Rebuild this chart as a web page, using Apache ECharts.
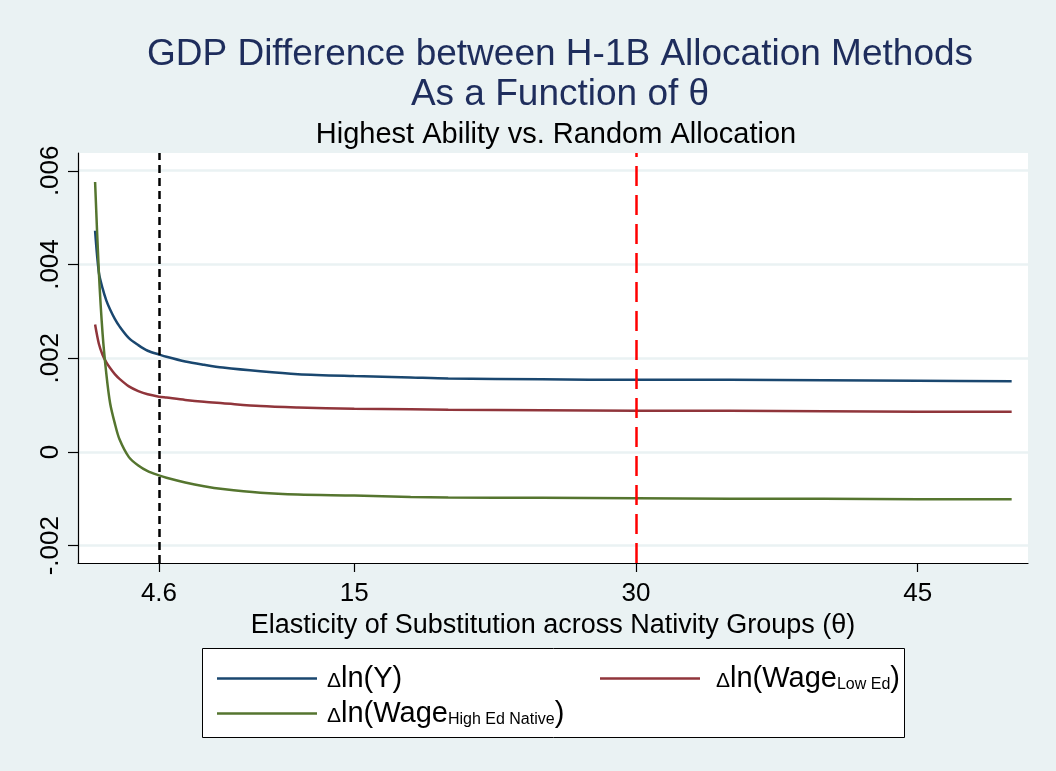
<!DOCTYPE html>
<html><head><meta charset="utf-8">
<script src="https://cdn.jsdelivr.net/npm/echarts@6/dist/echarts.min.js"></script>
<style>html,body{margin:0;padding:0;background:#eaf2f3;}#c{width:1056px;height:771px;}</style>
</head><body><div id="c"></div>
<script>
const theta = [1.2,1.4,1.6,1.8,2,2.25,2.5,3,3.5,4,4.6,5,6,7,8,10,12,15,18,20,25,30,35,40,45,50];
const dlnY = [.00472,.00383,.00349,.00323,.00304,.00284,.00268,.00243,.00228,.00216,.00208,.00203,.00193,.00186,.00180,.00172,.00166,.00162,.00159,.00157,.00155,.00154,.00154,.00153,.00152,.00151];
const dlnWageLowEd = [.00272,.00231,.00207,.00191,.00179,.00166,.00156,.00140,.00130,.00123,.00118,.00116,.00111,.00107,.00104,.00098,.00095,.00092,.00091,.00090,.00089,.00088,.00088,.00087,.00086,.00086];
const dlnWageHighEdNative = [.00576,.00384,.00252,.00166,.00104,.00061,.00027,-.00011,-.00029,-.00041,-.00050,-.00055,-.00065,-.00073,-.00079,-.00087,-.00091,-.00093,-.00096,-.00097,-.00098,-.00099,-.00100,-.00100,-.00101,-.00101];
const xTicks = [4.6, 15, 30, 45];
const yTicks = [-0.002, 0, 0.002, 0.004, 0.006];
const xLineBlack = 4.6;
const xLineRed = 30;
const titleText = 'GDP Difference between H-1B Allocation Methods\nAs a Function of θ';
const subtitleText = 'Highest Ability vs. Random Allocation';
const xTitle = 'Elasticity of Substitution across Nativity Groups (θ)';

const FONT = 'Liberation Sans, Arial, sans-serif';
const pairs = a => theta.map((t, i) => [t, a[i]]);
const chart = echarts.init(document.getElementById('c'), null, {renderer: 'canvas'});
const rich = {
  d: {fontSize: 21, fontFamily: FONT, color: '#000', padding: [5, 0, 0, 0]},
  t: {fontSize: 29, fontFamily: FONT, color: '#000'},
  sub: {fontSize: 16, fontFamily: FONT, color: '#000', padding: [12, 0, 0, 0]}
};
const names = {
  Y: '{d|Δ}{t|ln(Y)}',
  LowEd: '{d|Δ}{t|ln(Wage}{sub|Low Ed}{t|)}',
  HighEd: '{d|Δ}{t|ln(Wage}{sub|High Ed Native}{t|)}'
};
const lineSeries = (name, data, color) => ({
  name, type: 'line', data: pairs(data), symbol: 'none', showSymbol: false,
  smooth: 0.3, z: 3,
  lineStyle: {color, width: 2.5}, itemStyle: {color}
});
const legendIcon = 'path://M0,0H100V2.5H0Z';
chart.setOption({
  backgroundColor: '#eaf2f3',
  animation: false,
  title: [
    {text: titleText, left: 555, textAlign: 'center', top: 30,
     textStyle: {fontFamily: FONT, fontSize: 37, fontWeight: 'normal', color: '#1e2d5c', lineHeight: 40}},
    {text: subtitleText, left: 551, textAlign: 'center', top: 115,
     textStyle: {fontFamily: FONT, fontSize: 29, fontWeight: 'normal', color: '#000'}}
  ],
  grid: [
    {left: 78, right: 28, top: 153, bottom: 208, show: true, backgroundColor: '#ffffff', borderWidth: 0, z: 0},
    {left: 78, right: 28, top: 170.7, bottom: 225.3, show: false}
  ],
  xAxis: [{
    type: 'value', min: 0.29, max: 50.87,
    name: xTitle, nameLocation: 'middle', nameGap: 39,
    nameTextStyle: {fontFamily: FONT, fontSize: 27, color: '#000'},
    axisLine: {show: true, onZero: false, lineStyle: {color: '#000', width: 1.2}},
    axisTick: {show: true, length: 9, customValues: xTicks, lineStyle: {color: '#000', width: 1.2}},
    axisLabel: {customValues: xTicks, margin: 18, fontFamily: FONT, fontSize: 26, color: '#000',
      formatter: v => String(v)},
    splitLine: {show: false}, z: 2
  }, {
    gridIndex: 1, type: 'value', min: 0, max: 1, show: false
  }],
  yAxis: [{
    type: 'value', min: -0.00237, max: 0.00638,
    axisLine: {show: true, onZero: false, lineStyle: {color: '#000', width: 1.2}},
    axisTick: {show: true, length: 10, customValues: yTicks, lineStyle: {color: '#000', width: 1.2}},
    axisLabel: {customValues: yTicks, rotate: 90, margin: 14, fontFamily: FONT, fontSize: 26, color: '#000',
      formatter: v => v === 0 ? '0' : String(+v.toFixed(4)).replace('0.', '.')},
    splitLine: {show: false}, z: 2
  }, {
    gridIndex: 1, type: 'value', min: yTicks[0], max: yTicks[yTicks.length - 1], interval: 0.002,
    axisLine: {show: false}, axisTick: {show: false}, axisLabel: {show: false},
    splitLine: {show: true, lineStyle: {color: '#eaf2f3', width: 2.5}}, z: 1
  }],
  legend: [
    {data: ['Y', 'HighEd'], orient: 'vertical', left: 212, top: 659, itemWidth: 100, itemHeight: 2.5, itemGap: 6,
     icon: legendIcon, formatter: n => names[n], textStyle: {rich, padding: [0, 0, 0, 5]},
     selectedMode: false},
    {data: ['LowEd'], orient: 'vertical', left: 595, top: 659, itemWidth: 100, itemHeight: 2.5,
     icon: legendIcon, formatter: n => names[n], textStyle: {rich, padding: [0, 0, 0, 11]},
     selectedMode: false}
  ],
  graphic: [
    {type: 'rect', left: 202, top: 648, shape: {width: 702, height: 89}, z: -1,
     style: {fill: '#fff', stroke: '#000', lineWidth: 1}}
  ],
  series: [
    lineSeries('Y', dlnY, '#1a476f'),
    lineSeries('LowEd', dlnWageLowEd, '#90353b'),
    lineSeries('HighEd', dlnWageHighEdNative, '#55752f'),
    {type: 'line', name: 'vlines', data: [], z: 4, silent: true,
     markLine: {silent: true, symbol: ['none', 'none'], label: {show: false},
       data: [
         {xAxis: xLineBlack, lineStyle: {color: '#000', width: 2.5, type: [8, 5]}},
         {xAxis: xLineRed, lineStyle: {color: '#ff0000', width: 2.5, type: [20, 9]}}
       ]}}
  ]
});
</script></body></html>
